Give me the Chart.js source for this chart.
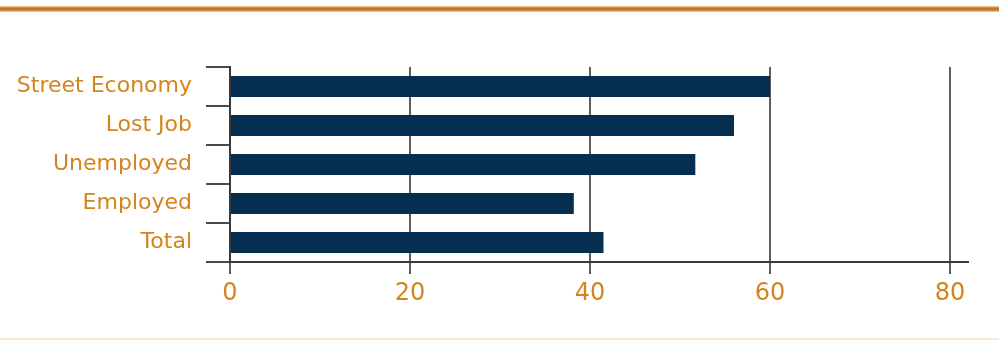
<!DOCTYPE html>
<html>
<head>
<meta charset="utf-8">
<script src="https://cdn.jsdelivr.net/npm/chart.js@4/dist/chart.umd.min.js"></script>
<style>
    html, body { margin:0; padding:0; background:#ffffff; }
    #marco { position:relative; width:999px; height:341px; overflow:hidden; }
    #lineaTop { position:absolute; left:0; top:6px; width:999px; height:6px;
        background:linear-gradient(#efd5b0, #c07a22 35%, #c07a22 65%, #efd5b0); }
    #lineaBottom { position:absolute; left:0; top:338px; width:999px; height:2px; background:#f8e7d2; }
    #grafica { position:absolute; left:0; top:0; }
</style>
</head>
<body>
<div id="marco">
    <div id="lineaTop"></div>
    <canvas id="grafica" width="999" height="341"></canvas>
    <div id="lineaBottom"></div>
</div>
<script>
var categorias = ['Street Economy', 'Lost Job', 'Unemployed', 'Employed', 'Total'];
var valores = [60.0, 56.0, 51.7, 38.2, 41.5];
var ticksX = [0, 20, 40, 60, 80];

var naranja = '#d4841c';
var azul = '#052e50';

var datos1 = {
    type: 'bar',
    data: {
        labels: categorias,
        datasets: [{
            data: valores,
            backgroundColor: azul,
            borderWidth: 0,
            barPercentage: 0.54,
            categoryPercentage: 1
        }]
    },
    options: {
        indexAxis: 'y',
        responsive: false,
        animation: false,
        layout: { padding: { top: 67, right: 31, left: 0, bottom: 0 } },
        plugins: { legend: { display: false }, tooltip: { enabled: false } },
        scales: {
            x: {
                min: 0,
                max: 82,
                afterFit: function (scale) { scale.height = 79; },
                afterBuildTicks: function (scale) {
                    scale.ticks = ticksX.map(function (v) { return { value: v }; });
                },
                border: { display: true, color: '#3a3a3a', width: 2 },
                grid: { color: '#5e5e5e', lineWidth: 2, tickLength: 12, tickColor: '#5e5e5e' },
                ticks: {
                    color: naranja,
                    padding: 5,
                    font: { family: 'DejaVu Sans', size: 24 }
                }
            },
            y: {
                afterFit: function (scale) { scale.width = 230; },
                border: { display: true, color: '#3a3a3a', width: 2 },
                grid: { offset: true, drawOnChartArea: false, tickLength: 24, color: '#4a4a4a', lineWidth: 2 },
                ticks: {
                    color: naranja,
                    padding: 14,
                    font: { family: 'DejaVu Sans', size: 22 }
                }
            }
        }
    }
};
var canvas = document.getElementById('grafica').getContext('2d');
var char = new Chart(canvas, datos1);
</script>
</body>
</html>
